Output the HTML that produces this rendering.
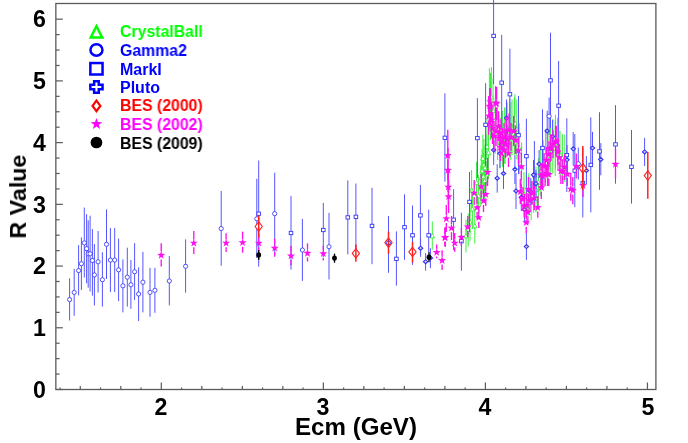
<!DOCTYPE html><html><head><meta charset="utf-8"><title>R Value</title><style>
html,body{margin:0;padding:0;background:#fff;}
body{width:688px;height:443px;position:relative;overflow:hidden;font-family:"Liberation Sans",sans-serif;font-weight:bold;color:#000;}
.t{position:absolute;white-space:nowrap;line-height:1;will-change:transform;}
.yl{font-size:23.2px;width:40px;text-align:right;left:6.4px;}
.xl{font-size:23.2px;width:40px;text-align:center;}
.lg{font-size:16px;left:120.2px;transform:scaleX(0.99);transform-origin:left top;}
</style></head><body>
<svg width="688" height="443" viewBox="0 0 688 443" style="position:absolute;left:0;top:0">
<rect x="0" y="0" width="688" height="443" fill="#fff"/>
<line x1="432.30" y1="221.40" x2="432.30" y2="249.60" stroke="#33f033" stroke-width="0.95"/>
<line x1="466.00" y1="219.59" x2="466.00" y2="252.41" stroke="#33f033" stroke-width="0.95"/>
<line x1="468.20" y1="213.44" x2="468.20" y2="246.56" stroke="#33f033" stroke-width="0.95"/>
<line x1="470.00" y1="203.13" x2="470.00" y2="240.87" stroke="#33f033" stroke-width="0.95"/>
<line x1="471.60" y1="169.89" x2="471.60" y2="210.71" stroke="#33f033" stroke-width="0.95"/>
<line x1="472.40" y1="189.25" x2="472.40" y2="229.15" stroke="#33f033" stroke-width="0.95"/>
<line x1="474.80" y1="208.40" x2="474.80" y2="243.60" stroke="#33f033" stroke-width="0.95"/>
<line x1="476.50" y1="161.67" x2="476.50" y2="203.93" stroke="#33f033" stroke-width="0.95"/>
<line x1="478.60" y1="174.69" x2="478.60" y2="217.31" stroke="#33f033" stroke-width="0.95"/>
<line x1="480.80" y1="165.27" x2="480.80" y2="206.73" stroke="#33f033" stroke-width="0.95"/>
<line x1="481.30" y1="154.98" x2="481.30" y2="201.02" stroke="#33f033" stroke-width="0.95"/>
<line x1="482.10" y1="148.62" x2="482.10" y2="193.38" stroke="#33f033" stroke-width="0.95"/>
<line x1="482.90" y1="134.64" x2="482.90" y2="182.16" stroke="#33f033" stroke-width="0.95"/>
<line x1="483.40" y1="153.24" x2="483.40" y2="199.56" stroke="#33f033" stroke-width="0.95"/>
<line x1="483.90" y1="139.01" x2="483.90" y2="190.99" stroke="#33f033" stroke-width="0.95"/>
<line x1="484.50" y1="159.45" x2="484.50" y2="202.55" stroke="#33f033" stroke-width="0.95"/>
<line x1="485.00" y1="144.71" x2="485.00" y2="191.29" stroke="#33f033" stroke-width="0.95"/>
<line x1="486.00" y1="134.24" x2="486.00" y2="185.76" stroke="#33f033" stroke-width="0.95"/>
<line x1="487.00" y1="118.08" x2="487.00" y2="175.32" stroke="#33f033" stroke-width="0.95"/>
<line x1="488.50" y1="126.55" x2="488.50" y2="179.25" stroke="#33f033" stroke-width="0.95"/>
<line x1="489.40" y1="68.13" x2="489.40" y2="130.87" stroke="#33f033" stroke-width="0.95"/>
<line x1="490.50" y1="73.00" x2="490.50" y2="140.00" stroke="#33f033" stroke-width="0.95"/>
<line x1="491.40" y1="67.05" x2="491.40" y2="126.75" stroke="#33f033" stroke-width="0.95"/>
<line x1="493.10" y1="78.05" x2="493.10" y2="142.95" stroke="#33f033" stroke-width="0.95"/>
<line x1="495.20" y1="99.08" x2="495.20" y2="153.67" stroke="#33f033" stroke-width="0.95"/>
<line x1="497.60" y1="105.44" x2="497.60" y2="160.18" stroke="#33f033" stroke-width="0.95"/>
<line x1="500.00" y1="117.04" x2="500.00" y2="168.54" stroke="#33f033" stroke-width="0.95"/>
<line x1="502.40" y1="110.85" x2="502.40" y2="167.18" stroke="#33f033" stroke-width="0.95"/>
<line x1="504.80" y1="107.40" x2="504.80" y2="163.70" stroke="#33f033" stroke-width="0.95"/>
<line x1="507.20" y1="102.49" x2="507.20" y2="155.74" stroke="#33f033" stroke-width="0.95"/>
<line x1="509.60" y1="98.35" x2="509.60" y2="157.55" stroke="#33f033" stroke-width="0.95"/>
<line x1="512.00" y1="99.35" x2="512.00" y2="155.31" stroke="#33f033" stroke-width="0.95"/>
<line x1="514.40" y1="97.08" x2="514.40" y2="154.65" stroke="#33f033" stroke-width="0.95"/>
<line x1="516.80" y1="99.44" x2="516.80" y2="159.36" stroke="#33f033" stroke-width="0.95"/>
<line x1="519.20" y1="123.17" x2="519.20" y2="174.00" stroke="#33f033" stroke-width="0.95"/>
<line x1="521.60" y1="142.31" x2="521.60" y2="191.48" stroke="#33f033" stroke-width="0.95"/>
<line x1="524.00" y1="172.26" x2="524.00" y2="216.74" stroke="#33f033" stroke-width="0.95"/>
<line x1="526.40" y1="172.47" x2="526.40" y2="218.44" stroke="#33f033" stroke-width="0.95"/>
<line x1="528.80" y1="173.35" x2="528.80" y2="215.68" stroke="#33f033" stroke-width="0.95"/>
<line x1="531.20" y1="181.07" x2="531.20" y2="220.30" stroke="#33f033" stroke-width="0.95"/>
<line x1="533.60" y1="172.61" x2="533.60" y2="212.72" stroke="#33f033" stroke-width="0.95"/>
<line x1="536.00" y1="166.59" x2="536.00" y2="212.45" stroke="#33f033" stroke-width="0.95"/>
<line x1="538.40" y1="158.22" x2="538.40" y2="206.53" stroke="#33f033" stroke-width="0.95"/>
<line x1="540.80" y1="146.23" x2="540.80" y2="195.80" stroke="#33f033" stroke-width="0.95"/>
<line x1="543.20" y1="140.53" x2="543.20" y2="190.44" stroke="#33f033" stroke-width="0.95"/>
<line x1="545.60" y1="128.95" x2="545.60" y2="183.10" stroke="#33f033" stroke-width="0.95"/>
<line x1="548.00" y1="129.96" x2="548.00" y2="181.21" stroke="#33f033" stroke-width="0.95"/>
<line x1="550.40" y1="123.32" x2="550.40" y2="172.72" stroke="#33f033" stroke-width="0.95"/>
<line x1="552.80" y1="118.83" x2="552.80" y2="173.61" stroke="#33f033" stroke-width="0.95"/>
<line x1="555.20" y1="120.20" x2="555.20" y2="176.04" stroke="#33f033" stroke-width="0.95"/>
<line x1="557.60" y1="117.73" x2="557.60" y2="170.70" stroke="#33f033" stroke-width="0.95"/>
<line x1="560.00" y1="130.83" x2="560.00" y2="178.55" stroke="#33f033" stroke-width="0.95"/>
<line x1="562.40" y1="134.15" x2="562.40" y2="182.33" stroke="#33f033" stroke-width="0.95"/>
<line x1="564.80" y1="134.67" x2="564.80" y2="181.94" stroke="#33f033" stroke-width="0.95"/>
<line x1="505.00" y1="107.70" x2="505.00" y2="163.80" stroke="#33f033" stroke-width="0.95"/>
<line x1="510.80" y1="102.40" x2="510.80" y2="160.00" stroke="#33f033" stroke-width="0.95"/>
<line x1="514.90" y1="94.30" x2="514.90" y2="152.80" stroke="#33f033" stroke-width="0.95"/>
<line x1="555.50" y1="114.80" x2="555.50" y2="169.00" stroke="#33f033" stroke-width="0.95"/>
<path d="M430.00 237.84 L434.60 237.84 L432.30 233.47 Z" fill="#fff" stroke="#33f033" stroke-width="0.9"/>
<path d="M463.70 237.84 L468.30 237.84 L466.00 233.47 Z" fill="#fff" stroke="#33f033" stroke-width="0.9"/>
<path d="M465.90 231.84 L470.50 231.84 L468.20 227.47 Z" fill="#fff" stroke="#33f033" stroke-width="0.9"/>
<path d="M467.70 223.84 L472.30 223.84 L470.00 219.47 Z" fill="#fff" stroke="#33f033" stroke-width="0.9"/>
<path d="M469.30 192.14 L473.90 192.14 L471.60 187.77 Z" fill="#fff" stroke="#33f033" stroke-width="0.9"/>
<path d="M470.10 211.04 L474.70 211.04 L472.40 206.67 Z" fill="#fff" stroke="#33f033" stroke-width="0.9"/>
<path d="M472.50 227.84 L477.10 227.84 L474.80 223.47 Z" fill="#fff" stroke="#33f033" stroke-width="0.9"/>
<path d="M474.20 184.64 L478.80 184.64 L476.50 180.27 Z" fill="#fff" stroke="#33f033" stroke-width="0.9"/>
<path d="M476.30 197.84 L480.90 197.84 L478.60 193.47 Z" fill="#fff" stroke="#33f033" stroke-width="0.9"/>
<path d="M478.50 187.84 L483.10 187.84 L480.80 183.47 Z" fill="#fff" stroke="#33f033" stroke-width="0.9"/>
<path d="M479.00 179.84 L483.60 179.84 L481.30 175.47 Z" fill="#fff" stroke="#33f033" stroke-width="0.9"/>
<path d="M479.80 172.84 L484.40 172.84 L482.10 168.47 Z" fill="#fff" stroke="#33f033" stroke-width="0.9"/>
<path d="M480.60 160.24 L485.20 160.24 L482.90 155.87 Z" fill="#fff" stroke="#33f033" stroke-width="0.9"/>
<path d="M481.10 178.24 L485.70 178.24 L483.40 173.87 Z" fill="#fff" stroke="#33f033" stroke-width="0.9"/>
<path d="M481.60 166.84 L486.20 166.84 L483.90 162.47 Z" fill="#fff" stroke="#33f033" stroke-width="0.9"/>
<path d="M482.20 182.84 L486.80 182.84 L484.50 178.47 Z" fill="#fff" stroke="#33f033" stroke-width="0.9"/>
<path d="M482.70 169.84 L487.30 169.84 L485.00 165.47 Z" fill="#fff" stroke="#33f033" stroke-width="0.9"/>
<path d="M483.70 161.84 L488.30 161.84 L486.00 157.47 Z" fill="#fff" stroke="#33f033" stroke-width="0.9"/>
<path d="M484.70 148.54 L489.30 148.54 L487.00 144.17 Z" fill="#fff" stroke="#33f033" stroke-width="0.9"/>
<path d="M486.20 154.74 L490.80 154.74 L488.50 150.37 Z" fill="#fff" stroke="#33f033" stroke-width="0.9"/>
<path d="M487.10 101.34 L491.70 101.34 L489.40 96.97 Z" fill="#fff" stroke="#33f033" stroke-width="0.9"/>
<path d="M488.20 108.34 L492.80 108.34 L490.50 103.97 Z" fill="#fff" stroke="#33f033" stroke-width="0.9"/>
<path d="M489.10 98.74 L493.70 98.74 L491.40 94.37 Z" fill="#fff" stroke="#33f033" stroke-width="0.9"/>
<path d="M490.80 112.34 L495.40 112.34 L493.10 107.97 Z" fill="#fff" stroke="#33f033" stroke-width="0.9"/>
<path d="M492.90 128.22 L497.50 128.22 L495.20 123.85 Z" fill="#fff" stroke="#33f033" stroke-width="0.9"/>
<path d="M495.30 134.65 L499.90 134.65 L497.60 130.28 Z" fill="#fff" stroke="#33f033" stroke-width="0.9"/>
<path d="M497.70 144.63 L502.30 144.63 L500.00 140.26 Z" fill="#fff" stroke="#33f033" stroke-width="0.9"/>
<path d="M500.10 140.86 L504.70 140.86 L502.40 136.49 Z" fill="#fff" stroke="#33f033" stroke-width="0.9"/>
<path d="M502.50 137.39 L507.10 137.39 L504.80 133.02 Z" fill="#fff" stroke="#33f033" stroke-width="0.9"/>
<path d="M504.90 130.95 L509.50 130.95 L507.20 126.58 Z" fill="#fff" stroke="#33f033" stroke-width="0.9"/>
<path d="M507.30 129.79 L511.90 129.79 L509.60 125.42 Z" fill="#fff" stroke="#33f033" stroke-width="0.9"/>
<path d="M509.70 129.17 L514.30 129.17 L512.00 124.80 Z" fill="#fff" stroke="#33f033" stroke-width="0.9"/>
<path d="M512.10 127.71 L516.70 127.71 L514.40 123.34 Z" fill="#fff" stroke="#33f033" stroke-width="0.9"/>
<path d="M514.50 131.24 L519.10 131.24 L516.80 126.87 Z" fill="#fff" stroke="#33f033" stroke-width="0.9"/>
<path d="M516.90 150.43 L521.50 150.43 L519.20 146.06 Z" fill="#fff" stroke="#33f033" stroke-width="0.9"/>
<path d="M519.30 168.73 L523.90 168.73 L521.60 164.36 Z" fill="#fff" stroke="#33f033" stroke-width="0.9"/>
<path d="M521.70 196.34 L526.30 196.34 L524.00 191.97 Z" fill="#fff" stroke="#33f033" stroke-width="0.9"/>
<path d="M524.10 197.30 L528.70 197.30 L526.40 192.93 Z" fill="#fff" stroke="#33f033" stroke-width="0.9"/>
<path d="M526.50 196.36 L531.10 196.36 L528.80 191.99 Z" fill="#fff" stroke="#33f033" stroke-width="0.9"/>
<path d="M528.90 202.53 L533.50 202.53 L531.20 198.16 Z" fill="#fff" stroke="#33f033" stroke-width="0.9"/>
<path d="M531.30 194.51 L535.90 194.51 L533.60 190.14 Z" fill="#fff" stroke="#33f033" stroke-width="0.9"/>
<path d="M533.70 191.36 L538.30 191.36 L536.00 186.99 Z" fill="#fff" stroke="#33f033" stroke-width="0.9"/>
<path d="M536.10 184.22 L540.70 184.22 L538.40 179.85 Z" fill="#fff" stroke="#33f033" stroke-width="0.9"/>
<path d="M538.50 172.85 L543.10 172.85 L540.80 168.48 Z" fill="#fff" stroke="#33f033" stroke-width="0.9"/>
<path d="M540.90 167.32 L545.50 167.32 L543.20 162.95 Z" fill="#fff" stroke="#33f033" stroke-width="0.9"/>
<path d="M543.30 157.86 L547.90 157.86 L545.60 153.49 Z" fill="#fff" stroke="#33f033" stroke-width="0.9"/>
<path d="M545.70 157.43 L550.30 157.43 L548.00 153.06 Z" fill="#fff" stroke="#33f033" stroke-width="0.9"/>
<path d="M548.10 149.86 L552.70 149.86 L550.40 145.49 Z" fill="#fff" stroke="#33f033" stroke-width="0.9"/>
<path d="M550.50 148.06 L555.10 148.06 L552.80 143.69 Z" fill="#fff" stroke="#33f033" stroke-width="0.9"/>
<path d="M552.90 149.96 L557.50 149.96 L555.20 145.59 Z" fill="#fff" stroke="#33f033" stroke-width="0.9"/>
<path d="M555.30 146.06 L559.90 146.06 L557.60 141.69 Z" fill="#fff" stroke="#33f033" stroke-width="0.9"/>
<path d="M557.70 156.53 L562.30 156.53 L560.00 152.16 Z" fill="#fff" stroke="#33f033" stroke-width="0.9"/>
<path d="M560.10 160.08 L564.70 160.08 L562.40 155.71 Z" fill="#fff" stroke="#33f033" stroke-width="0.9"/>
<path d="M562.50 160.15 L567.10 160.15 L564.80 155.78 Z" fill="#fff" stroke="#33f033" stroke-width="0.9"/>
<path d="M502.70 137.74 L507.30 137.74 L505.00 133.37 Z" fill="#fff" stroke="#33f033" stroke-width="0.9"/>
<path d="M508.50 132.84 L513.10 132.84 L510.80 128.47 Z" fill="#fff" stroke="#33f033" stroke-width="0.9"/>
<path d="M512.60 125.34 L517.20 125.34 L514.90 120.97 Z" fill="#fff" stroke="#33f033" stroke-width="0.9"/>
<path d="M553.20 143.84 L557.80 143.84 L555.50 139.47 Z" fill="#fff" stroke="#33f033" stroke-width="0.9"/>
<line x1="69.60" y1="278.30" x2="69.60" y2="320.50" stroke="#5555ff" stroke-width="1.0"/>
<line x1="74.20" y1="268.80" x2="74.20" y2="315.80" stroke="#5555ff" stroke-width="1.0"/>
<line x1="78.60" y1="245.10" x2="78.60" y2="295.40" stroke="#5555ff" stroke-width="1.0"/>
<line x1="81.40" y1="237.40" x2="81.40" y2="289.90" stroke="#5555ff" stroke-width="1.0"/>
<line x1="84.30" y1="207.60" x2="84.30" y2="277.50" stroke="#5555ff" stroke-width="1.0"/>
<line x1="86.60" y1="214.20" x2="86.60" y2="283.30" stroke="#5555ff" stroke-width="1.0"/>
<line x1="88.20" y1="220.30" x2="88.20" y2="287.70" stroke="#5555ff" stroke-width="1.0"/>
<line x1="90.10" y1="215.70" x2="90.10" y2="291.60" stroke="#5555ff" stroke-width="1.0"/>
<line x1="92.40" y1="229.10" x2="92.40" y2="295.70" stroke="#5555ff" stroke-width="1.0"/>
<line x1="94.40" y1="244.00" x2="94.40" y2="305.40" stroke="#5555ff" stroke-width="1.0"/>
<line x1="98.10" y1="231.00" x2="98.10" y2="292.50" stroke="#5555ff" stroke-width="1.0"/>
<line x1="102.40" y1="252.30" x2="102.40" y2="306.60" stroke="#5555ff" stroke-width="1.0"/>
<line x1="106.50" y1="209.40" x2="106.50" y2="279.00" stroke="#5555ff" stroke-width="1.0"/>
<line x1="110.40" y1="228.00" x2="110.40" y2="292.10" stroke="#5555ff" stroke-width="1.0"/>
<line x1="114.70" y1="228.00" x2="114.70" y2="292.10" stroke="#5555ff" stroke-width="1.0"/>
<line x1="118.60" y1="238.50" x2="118.60" y2="301.10" stroke="#5555ff" stroke-width="1.0"/>
<line x1="122.90" y1="259.40" x2="122.90" y2="312.40" stroke="#5555ff" stroke-width="1.0"/>
<line x1="127.30" y1="247.70" x2="127.30" y2="306.60" stroke="#5555ff" stroke-width="1.0"/>
<line x1="130.90" y1="260.00" x2="130.90" y2="308.80" stroke="#5555ff" stroke-width="1.0"/>
<line x1="134.60" y1="243.20" x2="134.60" y2="300.10" stroke="#5555ff" stroke-width="1.0"/>
<line x1="138.60" y1="267.40" x2="138.60" y2="321.00" stroke="#5555ff" stroke-width="1.0"/>
<line x1="142.90" y1="251.90" x2="142.90" y2="312.40" stroke="#5555ff" stroke-width="1.0"/>
<line x1="150.00" y1="267.80" x2="150.00" y2="316.80" stroke="#5555ff" stroke-width="1.0"/>
<line x1="154.90" y1="267.80" x2="154.90" y2="312.80" stroke="#5555ff" stroke-width="1.0"/>
<line x1="169.30" y1="256.10" x2="169.30" y2="305.40" stroke="#5555ff" stroke-width="1.0"/>
<line x1="185.60" y1="239.40" x2="185.60" y2="292.70" stroke="#5555ff" stroke-width="1.0"/>
<line x1="221.20" y1="191.00" x2="221.20" y2="265.70" stroke="#5555ff" stroke-width="1.0"/>
<line x1="256.80" y1="178.80" x2="256.80" y2="258.00" stroke="#5555ff" stroke-width="1.0"/>
<line x1="274.70" y1="172.70" x2="274.70" y2="254.00" stroke="#5555ff" stroke-width="1.0"/>
<line x1="302.40" y1="219.00" x2="302.40" y2="280.90" stroke="#5555ff" stroke-width="1.0"/>
<line x1="329.00" y1="212.90" x2="329.00" y2="279.50" stroke="#5555ff" stroke-width="1.0"/>
<line x1="388.50" y1="216.00" x2="388.50" y2="272.80" stroke="#5555ff" stroke-width="1.0"/>
<line x1="549.10" y1="97.50" x2="549.10" y2="135.00" stroke="#5555ff" stroke-width="1.0"/>
<line x1="578.30" y1="147.50" x2="578.30" y2="179.60" stroke="#5555ff" stroke-width="1.0"/>
<line x1="258.70" y1="160.50" x2="258.70" y2="266.70" stroke="#5555ff" stroke-width="1.0"/>
<line x1="291.00" y1="195.90" x2="291.00" y2="269.70" stroke="#5555ff" stroke-width="1.0"/>
<line x1="323.30" y1="203.00" x2="323.30" y2="257.00" stroke="#5555ff" stroke-width="1.0"/>
<line x1="347.80" y1="180.40" x2="347.80" y2="254.40" stroke="#5555ff" stroke-width="1.0"/>
<line x1="355.90" y1="183.50" x2="355.90" y2="250.00" stroke="#5555ff" stroke-width="1.0"/>
<line x1="372.00" y1="187.80" x2="372.00" y2="264.20" stroke="#5555ff" stroke-width="1.0"/>
<line x1="396.40" y1="231.40" x2="396.40" y2="285.70" stroke="#5555ff" stroke-width="1.0"/>
<line x1="404.50" y1="194.30" x2="404.50" y2="259.80" stroke="#5555ff" stroke-width="1.0"/>
<line x1="412.50" y1="205.50" x2="412.50" y2="264.90" stroke="#5555ff" stroke-width="1.0"/>
<line x1="420.40" y1="184.90" x2="420.40" y2="254.00" stroke="#5555ff" stroke-width="1.0"/>
<line x1="428.70" y1="209.70" x2="428.70" y2="252.00" stroke="#5555ff" stroke-width="1.0"/>
<line x1="444.90" y1="93.30" x2="444.90" y2="181.60" stroke="#5555ff" stroke-width="1.0"/>
<line x1="453.60" y1="189.20" x2="453.60" y2="250.00" stroke="#5555ff" stroke-width="1.0"/>
<line x1="461.40" y1="212.70" x2="461.40" y2="270.70" stroke="#5555ff" stroke-width="1.0"/>
<line x1="469.50" y1="172.00" x2="469.50" y2="232.00" stroke="#5555ff" stroke-width="1.0"/>
<line x1="477.40" y1="98.10" x2="477.40" y2="178.00" stroke="#5555ff" stroke-width="1.0"/>
<line x1="485.60" y1="83.20" x2="485.60" y2="166.00" stroke="#5555ff" stroke-width="1.0"/>
<line x1="493.60" y1="-12.00" x2="493.60" y2="84.00" stroke="#5555ff" stroke-width="1.0"/>
<line x1="501.70" y1="34.80" x2="501.70" y2="130.00" stroke="#5555ff" stroke-width="1.0"/>
<line x1="509.90" y1="48.70" x2="509.90" y2="140.00" stroke="#5555ff" stroke-width="1.0"/>
<line x1="518.50" y1="96.00" x2="518.50" y2="174.00" stroke="#5555ff" stroke-width="1.0"/>
<line x1="526.40" y1="118.70" x2="526.40" y2="194.00" stroke="#5555ff" stroke-width="1.0"/>
<line x1="534.40" y1="141.00" x2="534.40" y2="209.00" stroke="#5555ff" stroke-width="1.0"/>
<line x1="542.50" y1="109.30" x2="542.50" y2="187.00" stroke="#5555ff" stroke-width="1.0"/>
<line x1="550.50" y1="32.70" x2="550.50" y2="128.00" stroke="#5555ff" stroke-width="1.0"/>
<line x1="558.60" y1="61.00" x2="558.60" y2="150.00" stroke="#5555ff" stroke-width="1.0"/>
<line x1="566.80" y1="118.30" x2="566.80" y2="192.00" stroke="#5555ff" stroke-width="1.0"/>
<line x1="574.80" y1="134.00" x2="574.80" y2="207.20" stroke="#5555ff" stroke-width="1.0"/>
<line x1="582.80" y1="148.00" x2="582.80" y2="217.40" stroke="#5555ff" stroke-width="1.0"/>
<line x1="590.80" y1="117.30" x2="590.80" y2="212.30" stroke="#5555ff" stroke-width="1.0"/>
<line x1="599.50" y1="112.20" x2="599.50" y2="189.80" stroke="#5555ff" stroke-width="1.0"/>
<line x1="615.50" y1="105.20" x2="615.50" y2="183.70" stroke="#5555ff" stroke-width="1.0"/>
<line x1="631.50" y1="130.00" x2="631.50" y2="203.60" stroke="#5555ff" stroke-width="1.0"/>
<line x1="420.60" y1="239.00" x2="420.60" y2="256.90" stroke="#5555ff" stroke-width="1.0"/>
<line x1="425.60" y1="253.00" x2="425.60" y2="270.70" stroke="#5555ff" stroke-width="1.0"/>
<line x1="430.40" y1="248.20" x2="430.40" y2="268.10" stroke="#5555ff" stroke-width="1.0"/>
<line x1="493.70" y1="135.00" x2="493.70" y2="165.00" stroke="#5555ff" stroke-width="1.0"/>
<line x1="497.20" y1="164.20" x2="497.20" y2="192.70" stroke="#5555ff" stroke-width="1.0"/>
<line x1="500.00" y1="139.00" x2="500.00" y2="168.00" stroke="#5555ff" stroke-width="1.0"/>
<line x1="503.50" y1="158.00" x2="503.50" y2="189.00" stroke="#5555ff" stroke-width="1.0"/>
<line x1="506.50" y1="99.50" x2="506.50" y2="137.00" stroke="#5555ff" stroke-width="1.0"/>
<line x1="514.90" y1="155.00" x2="514.90" y2="184.00" stroke="#5555ff" stroke-width="1.0"/>
<line x1="516.00" y1="173.00" x2="516.00" y2="209.00" stroke="#5555ff" stroke-width="1.0"/>
<line x1="521.30" y1="184.00" x2="521.30" y2="211.00" stroke="#5555ff" stroke-width="1.0"/>
<line x1="524.40" y1="196.00" x2="524.40" y2="223.00" stroke="#5555ff" stroke-width="1.0"/>
<line x1="526.40" y1="233.00" x2="526.40" y2="260.00" stroke="#5555ff" stroke-width="1.0"/>
<line x1="530.80" y1="178.00" x2="530.80" y2="205.00" stroke="#5555ff" stroke-width="1.0"/>
<line x1="533.50" y1="160.00" x2="533.50" y2="190.00" stroke="#5555ff" stroke-width="1.0"/>
<line x1="536.00" y1="170.00" x2="536.00" y2="197.00" stroke="#5555ff" stroke-width="1.0"/>
<line x1="539.10" y1="150.00" x2="539.10" y2="178.00" stroke="#5555ff" stroke-width="1.0"/>
<line x1="547.20" y1="110.70" x2="547.20" y2="151.00" stroke="#5555ff" stroke-width="1.0"/>
<line x1="552.60" y1="120.00" x2="552.60" y2="153.00" stroke="#5555ff" stroke-width="1.0"/>
<line x1="567.00" y1="145.00" x2="567.00" y2="175.00" stroke="#5555ff" stroke-width="1.0"/>
<line x1="573.20" y1="132.10" x2="573.20" y2="165.00" stroke="#5555ff" stroke-width="1.0"/>
<line x1="586.40" y1="156.00" x2="586.40" y2="184.10" stroke="#5555ff" stroke-width="1.0"/>
<line x1="592.50" y1="131.80" x2="592.50" y2="164.00" stroke="#5555ff" stroke-width="1.0"/>
<line x1="600.80" y1="143.10" x2="600.80" y2="175.30" stroke="#5555ff" stroke-width="1.0"/>
<line x1="644.60" y1="137.90" x2="644.60" y2="166.00" stroke="#5555ff" stroke-width="1.0"/>
<circle cx="69.60" cy="299.60" r="2.1" fill="#fff" stroke="#3535f8" stroke-width="0.85"/>
<circle cx="74.20" cy="292.40" r="2.1" fill="#fff" stroke="#3535f8" stroke-width="0.85"/>
<circle cx="78.60" cy="270.60" r="2.1" fill="#fff" stroke="#3535f8" stroke-width="0.85"/>
<circle cx="81.40" cy="263.70" r="2.1" fill="#fff" stroke="#3535f8" stroke-width="0.85"/>
<circle cx="84.30" cy="242.90" r="2.1" fill="#fff" stroke="#3535f8" stroke-width="0.85"/>
<circle cx="86.60" cy="248.70" r="2.1" fill="#fff" stroke="#3535f8" stroke-width="0.85"/>
<circle cx="88.20" cy="253.80" r="2.1" fill="#fff" stroke="#3535f8" stroke-width="0.85"/>
<circle cx="90.10" cy="253.80" r="2.1" fill="#fff" stroke="#3535f8" stroke-width="0.85"/>
<circle cx="92.40" cy="260.50" r="2.1" fill="#fff" stroke="#3535f8" stroke-width="0.85"/>
<circle cx="94.40" cy="274.90" r="2.1" fill="#fff" stroke="#3535f8" stroke-width="0.85"/>
<circle cx="98.10" cy="261.80" r="2.1" fill="#fff" stroke="#3535f8" stroke-width="0.85"/>
<circle cx="102.40" cy="279.70" r="2.1" fill="#fff" stroke="#3535f8" stroke-width="0.85"/>
<circle cx="106.50" cy="244.30" r="2.1" fill="#fff" stroke="#3535f8" stroke-width="0.85"/>
<circle cx="110.40" cy="260.10" r="2.1" fill="#fff" stroke="#3535f8" stroke-width="0.85"/>
<circle cx="114.70" cy="260.10" r="2.1" fill="#fff" stroke="#3535f8" stroke-width="0.85"/>
<circle cx="118.60" cy="269.80" r="2.1" fill="#fff" stroke="#3535f8" stroke-width="0.85"/>
<circle cx="122.90" cy="285.80" r="2.1" fill="#fff" stroke="#3535f8" stroke-width="0.85"/>
<circle cx="127.30" cy="277.20" r="2.1" fill="#fff" stroke="#3535f8" stroke-width="0.85"/>
<circle cx="130.90" cy="284.80" r="2.1" fill="#fff" stroke="#3535f8" stroke-width="0.85"/>
<circle cx="134.60" cy="271.70" r="2.1" fill="#fff" stroke="#3535f8" stroke-width="0.85"/>
<circle cx="138.60" cy="294.00" r="2.1" fill="#fff" stroke="#3535f8" stroke-width="0.85"/>
<circle cx="142.90" cy="282.20" r="2.1" fill="#fff" stroke="#3535f8" stroke-width="0.85"/>
<circle cx="150.00" cy="292.40" r="2.1" fill="#fff" stroke="#3535f8" stroke-width="0.85"/>
<circle cx="154.90" cy="290.30" r="2.1" fill="#fff" stroke="#3535f8" stroke-width="0.85"/>
<circle cx="169.30" cy="281.00" r="2.1" fill="#fff" stroke="#3535f8" stroke-width="0.85"/>
<circle cx="185.60" cy="266.30" r="2.1" fill="#fff" stroke="#3535f8" stroke-width="0.85"/>
<circle cx="221.20" cy="228.60" r="2.1" fill="#fff" stroke="#3535f8" stroke-width="0.85"/>
<circle cx="256.80" cy="218.80" r="2.1" fill="#fff" stroke="#3535f8" stroke-width="0.85"/>
<circle cx="274.70" cy="213.70" r="2.1" fill="#fff" stroke="#3535f8" stroke-width="0.85"/>
<circle cx="302.40" cy="250.00" r="2.1" fill="#fff" stroke="#3535f8" stroke-width="0.85"/>
<circle cx="329.00" cy="246.70" r="2.1" fill="#fff" stroke="#3535f8" stroke-width="0.85"/>
<circle cx="388.50" cy="242.80" r="2.1" fill="#fff" stroke="#3535f8" stroke-width="0.85"/>
<circle cx="549.10" cy="116.20" r="2.1" fill="#fff" stroke="#3535f8" stroke-width="0.85"/>
<circle cx="578.30" cy="163.80" r="2.1" fill="#fff" stroke="#3535f8" stroke-width="0.85"/>
<rect x="256.90" y="212.05" width="3.6" height="3.3" fill="#fff" stroke="#3535f8" stroke-width="0.9"/>
<rect x="289.20" y="231.35" width="3.6" height="3.3" fill="#fff" stroke="#3535f8" stroke-width="0.9"/>
<rect x="321.50" y="228.35" width="3.6" height="3.3" fill="#fff" stroke="#3535f8" stroke-width="0.9"/>
<rect x="346.00" y="215.75" width="3.6" height="3.3" fill="#fff" stroke="#3535f8" stroke-width="0.9"/>
<rect x="354.10" y="215.15" width="3.6" height="3.3" fill="#fff" stroke="#3535f8" stroke-width="0.9"/>
<rect x="370.20" y="224.25" width="3.6" height="3.3" fill="#fff" stroke="#3535f8" stroke-width="0.9"/>
<rect x="394.60" y="257.15" width="3.6" height="3.3" fill="#fff" stroke="#3535f8" stroke-width="0.9"/>
<rect x="402.70" y="225.55" width="3.6" height="3.3" fill="#fff" stroke="#3535f8" stroke-width="0.9"/>
<rect x="410.70" y="233.65" width="3.6" height="3.3" fill="#fff" stroke="#3535f8" stroke-width="0.9"/>
<rect x="418.60" y="213.75" width="3.6" height="3.3" fill="#fff" stroke="#3535f8" stroke-width="0.9"/>
<rect x="426.90" y="233.65" width="3.6" height="3.3" fill="#fff" stroke="#3535f8" stroke-width="0.9"/>
<rect x="443.10" y="136.15" width="3.6" height="3.3" fill="#fff" stroke="#3535f8" stroke-width="0.9"/>
<rect x="451.80" y="218.05" width="3.6" height="3.3" fill="#fff" stroke="#3535f8" stroke-width="0.9"/>
<rect x="459.60" y="239.55" width="3.6" height="3.3" fill="#fff" stroke="#3535f8" stroke-width="0.9"/>
<rect x="467.70" y="200.25" width="3.6" height="3.3" fill="#fff" stroke="#3535f8" stroke-width="0.9"/>
<rect x="475.60" y="136.45" width="3.6" height="3.3" fill="#fff" stroke="#3535f8" stroke-width="0.9"/>
<rect x="483.80" y="123.15" width="3.6" height="3.3" fill="#fff" stroke="#3535f8" stroke-width="0.9"/>
<rect x="491.80" y="34.25" width="3.6" height="3.3" fill="#fff" stroke="#3535f8" stroke-width="0.9"/>
<rect x="499.90" y="81.05" width="3.6" height="3.3" fill="#fff" stroke="#3535f8" stroke-width="0.9"/>
<rect x="508.10" y="92.65" width="3.6" height="3.3" fill="#fff" stroke="#3535f8" stroke-width="0.9"/>
<rect x="516.70" y="133.55" width="3.6" height="3.3" fill="#fff" stroke="#3535f8" stroke-width="0.9"/>
<rect x="524.60" y="154.55" width="3.6" height="3.3" fill="#fff" stroke="#3535f8" stroke-width="0.9"/>
<rect x="532.60" y="173.55" width="3.6" height="3.3" fill="#fff" stroke="#3535f8" stroke-width="0.9"/>
<rect x="540.70" y="146.35" width="3.6" height="3.3" fill="#fff" stroke="#3535f8" stroke-width="0.9"/>
<rect x="548.70" y="78.75" width="3.6" height="3.3" fill="#fff" stroke="#3535f8" stroke-width="0.9"/>
<rect x="556.80" y="104.05" width="3.6" height="3.3" fill="#fff" stroke="#3535f8" stroke-width="0.9"/>
<rect x="565.00" y="153.45" width="3.6" height="3.3" fill="#fff" stroke="#3535f8" stroke-width="0.9"/>
<rect x="573.00" y="168.95" width="3.6" height="3.3" fill="#fff" stroke="#3535f8" stroke-width="0.9"/>
<rect x="581.00" y="181.35" width="3.6" height="3.3" fill="#fff" stroke="#3535f8" stroke-width="0.9"/>
<rect x="589.00" y="163.25" width="3.6" height="3.3" fill="#fff" stroke="#3535f8" stroke-width="0.9"/>
<rect x="597.70" y="149.75" width="3.6" height="3.3" fill="#fff" stroke="#3535f8" stroke-width="0.9"/>
<rect x="613.70" y="142.75" width="3.6" height="3.3" fill="#fff" stroke="#3535f8" stroke-width="0.9"/>
<rect x="629.70" y="165.15" width="3.6" height="3.3" fill="#fff" stroke="#3535f8" stroke-width="0.9"/>
<path d="M418.40 248.20 L420.60 246.20 L422.80 248.20 L420.60 250.20 Z" fill="#ccd" stroke="#3535f8" stroke-width="1.1"/>
<path d="M423.40 261.70 L425.60 259.70 L427.80 261.70 L425.60 263.70 Z" fill="#ccd" stroke="#3535f8" stroke-width="1.1"/>
<path d="M428.20 257.90 L430.40 255.90 L432.60 257.90 L430.40 259.90 Z" fill="#ccd" stroke="#3535f8" stroke-width="1.1"/>
<path d="M491.50 150.00 L493.70 148.00 L495.90 150.00 L493.70 152.00 Z" fill="#ccd" stroke="#3535f8" stroke-width="1.1"/>
<path d="M495.00 178.20 L497.20 176.20 L499.40 178.20 L497.20 180.20 Z" fill="#ccd" stroke="#3535f8" stroke-width="1.1"/>
<path d="M497.80 153.30 L500.00 151.30 L502.20 153.30 L500.00 155.30 Z" fill="#ccd" stroke="#3535f8" stroke-width="1.1"/>
<path d="M501.30 173.50 L503.50 171.50 L505.70 173.50 L503.50 175.50 Z" fill="#ccd" stroke="#3535f8" stroke-width="1.1"/>
<path d="M504.30 118.10 L506.50 116.10 L508.70 118.10 L506.50 120.10 Z" fill="#ccd" stroke="#3535f8" stroke-width="1.1"/>
<path d="M512.70 169.30 L514.90 167.30 L517.10 169.30 L514.90 171.30 Z" fill="#ccd" stroke="#3535f8" stroke-width="1.1"/>
<path d="M513.80 190.90 L516.00 188.90 L518.20 190.90 L516.00 192.90 Z" fill="#ccd" stroke="#3535f8" stroke-width="1.1"/>
<path d="M519.10 197.30 L521.30 195.30 L523.50 197.30 L521.30 199.30 Z" fill="#ccd" stroke="#3535f8" stroke-width="1.1"/>
<path d="M522.20 209.50 L524.40 207.50 L526.60 209.50 L524.40 211.50 Z" fill="#ccd" stroke="#3535f8" stroke-width="1.1"/>
<path d="M524.20 246.60 L526.40 244.60 L528.60 246.60 L526.40 248.60 Z" fill="#ccd" stroke="#3535f8" stroke-width="1.1"/>
<path d="M528.60 191.50 L530.80 189.50 L533.00 191.50 L530.80 193.50 Z" fill="#ccd" stroke="#3535f8" stroke-width="1.1"/>
<path d="M531.30 174.80 L533.50 172.80 L535.70 174.80 L533.50 176.80 Z" fill="#ccd" stroke="#3535f8" stroke-width="1.1"/>
<path d="M533.80 183.70 L536.00 181.70 L538.20 183.70 L536.00 185.70 Z" fill="#ccd" stroke="#3535f8" stroke-width="1.1"/>
<path d="M536.90 164.00 L539.10 162.00 L541.30 164.00 L539.10 166.00 Z" fill="#ccd" stroke="#3535f8" stroke-width="1.1"/>
<path d="M545.00 131.00 L547.20 129.00 L549.40 131.00 L547.20 133.00 Z" fill="#ccd" stroke="#3535f8" stroke-width="1.1"/>
<path d="M550.40 136.50 L552.60 134.50 L554.80 136.50 L552.60 138.50 Z" fill="#ccd" stroke="#3535f8" stroke-width="1.1"/>
<path d="M564.80 159.80 L567.00 157.80 L569.20 159.80 L567.00 161.80 Z" fill="#ccd" stroke="#3535f8" stroke-width="1.1"/>
<path d="M571.00 148.80 L573.20 146.80 L575.40 148.80 L573.20 150.80 Z" fill="#ccd" stroke="#3535f8" stroke-width="1.1"/>
<path d="M584.20 170.40 L586.40 168.40 L588.60 170.40 L586.40 172.40 Z" fill="#ccd" stroke="#3535f8" stroke-width="1.1"/>
<path d="M590.30 148.10 L592.50 146.10 L594.70 148.10 L592.50 150.10 Z" fill="#ccd" stroke="#3535f8" stroke-width="1.1"/>
<path d="M598.60 159.40 L600.80 157.40 L603.00 159.40 L600.80 161.40 Z" fill="#ccd" stroke="#3535f8" stroke-width="1.1"/>
<path d="M642.40 151.90 L644.60 149.90 L646.80 151.90 L644.60 153.90 Z" fill="#ccd" stroke="#3535f8" stroke-width="1.1"/>
<line x1="161.20" y1="243.20" x2="161.20" y2="251.60" stroke="#ff10f0" stroke-width="1.35"/>
<line x1="161.20" y1="259.40" x2="161.20" y2="266.60" stroke="#ff10f0" stroke-width="1.35"/>
<line x1="193.80" y1="231.00" x2="193.80" y2="239.40" stroke="#ff10f0" stroke-width="1.35"/>
<line x1="193.80" y1="247.20" x2="193.80" y2="254.10" stroke="#ff10f0" stroke-width="1.35"/>
<line x1="226.10" y1="233.30" x2="226.10" y2="239.40" stroke="#ff10f0" stroke-width="1.35"/>
<line x1="226.10" y1="247.20" x2="226.10" y2="252.00" stroke="#ff10f0" stroke-width="1.35"/>
<line x1="242.60" y1="231.60" x2="242.60" y2="239.00" stroke="#ff10f0" stroke-width="1.35"/>
<line x1="242.60" y1="246.80" x2="242.60" y2="252.60" stroke="#ff10f0" stroke-width="1.35"/>
<line x1="258.70" y1="234.00" x2="258.70" y2="239.40" stroke="#ff10f0" stroke-width="1.35"/>
<line x1="258.70" y1="247.20" x2="258.70" y2="251.00" stroke="#ff10f0" stroke-width="1.35"/>
<line x1="274.70" y1="238.80" x2="274.70" y2="244.50" stroke="#ff10f0" stroke-width="1.35"/>
<line x1="274.70" y1="252.30" x2="274.70" y2="256.70" stroke="#ff10f0" stroke-width="1.35"/>
<line x1="291.00" y1="245.90" x2="291.00" y2="252.20" stroke="#ff10f0" stroke-width="1.35"/>
<line x1="291.00" y1="260.00" x2="291.00" y2="265.20" stroke="#ff10f0" stroke-width="1.35"/>
<line x1="307.50" y1="243.40" x2="307.50" y2="249.60" stroke="#ff10f0" stroke-width="1.35"/>
<line x1="307.50" y1="257.40" x2="307.50" y2="261.50" stroke="#ff10f0" stroke-width="1.35"/>
<line x1="323.30" y1="245.50" x2="323.30" y2="250.00" stroke="#ff10f0" stroke-width="1.35"/>
<line x1="323.30" y1="257.80" x2="323.30" y2="260.50" stroke="#ff10f0" stroke-width="1.35"/>
<line x1="436.70" y1="244.50" x2="436.70" y2="248.70" stroke="#ff10f0" stroke-width="1.35"/>
<line x1="436.70" y1="256.50" x2="436.70" y2="258.30" stroke="#ff10f0" stroke-width="1.35"/>
<line x1="442.10" y1="250.30" x2="442.10" y2="256.80" stroke="#ff10f0" stroke-width="1.35"/>
<line x1="442.10" y1="264.60" x2="442.10" y2="270.00" stroke="#ff10f0" stroke-width="1.35"/>
<line x1="444.80" y1="228.00" x2="444.80" y2="233.90" stroke="#ff10f0" stroke-width="1.35"/>
<line x1="444.80" y1="241.70" x2="444.80" y2="246.00" stroke="#ff10f0" stroke-width="1.35"/>
<line x1="447.80" y1="129.70" x2="447.80" y2="151.80" stroke="#ff10f0" stroke-width="1.35"/>
<line x1="447.80" y1="159.60" x2="447.80" y2="180.00" stroke="#ff10f0" stroke-width="1.35"/>
<line x1="448.00" y1="148.00" x2="448.00" y2="166.60" stroke="#ff10f0" stroke-width="1.35"/>
<line x1="448.00" y1="174.40" x2="448.00" y2="192.00" stroke="#ff10f0" stroke-width="1.35"/>
<line x1="448.30" y1="168.00" x2="448.30" y2="183.50" stroke="#ff10f0" stroke-width="1.35"/>
<line x1="448.30" y1="191.30" x2="448.30" y2="205.00" stroke="#ff10f0" stroke-width="1.35"/>
<line x1="448.60" y1="180.00" x2="448.60" y2="193.00" stroke="#ff10f0" stroke-width="1.35"/>
<line x1="448.60" y1="200.80" x2="448.60" y2="213.00" stroke="#ff10f0" stroke-width="1.35"/>
<line x1="446.30" y1="205.00" x2="446.30" y2="215.10" stroke="#ff10f0" stroke-width="1.35"/>
<line x1="446.30" y1="222.90" x2="446.30" y2="232.00" stroke="#ff10f0" stroke-width="1.35"/>
<line x1="451.50" y1="216.00" x2="451.50" y2="224.40" stroke="#ff10f0" stroke-width="1.35"/>
<line x1="451.50" y1="232.20" x2="451.50" y2="240.00" stroke="#ff10f0" stroke-width="1.35"/>
<line x1="445.30" y1="227.00" x2="445.30" y2="233.80" stroke="#ff10f0" stroke-width="1.35"/>
<line x1="445.30" y1="241.60" x2="445.30" y2="247.00" stroke="#ff10f0" stroke-width="1.35"/>
<line x1="454.70" y1="232.90" x2="454.70" y2="239.40" stroke="#ff10f0" stroke-width="1.35"/>
<line x1="454.70" y1="247.20" x2="454.70" y2="251.80" stroke="#ff10f0" stroke-width="1.35"/>
<line x1="461.40" y1="228.00" x2="461.40" y2="233.60" stroke="#ff10f0" stroke-width="1.35"/>
<line x1="461.40" y1="241.40" x2="461.40" y2="246.00" stroke="#ff10f0" stroke-width="1.35"/>
<line x1="467.80" y1="216.00" x2="467.80" y2="223.20" stroke="#ff10f0" stroke-width="1.35"/>
<line x1="467.80" y1="231.00" x2="467.80" y2="237.00" stroke="#ff10f0" stroke-width="1.35"/>
<line x1="474.20" y1="180.00" x2="474.20" y2="189.40" stroke="#ff10f0" stroke-width="1.35"/>
<line x1="474.20" y1="197.20" x2="474.20" y2="205.00" stroke="#ff10f0" stroke-width="1.35"/>
<line x1="477.10" y1="196.00" x2="477.10" y2="204.00" stroke="#ff10f0" stroke-width="1.35"/>
<line x1="477.10" y1="211.80" x2="477.10" y2="219.00" stroke="#ff10f0" stroke-width="1.35"/>
<line x1="478.80" y1="206.00" x2="478.80" y2="213.90" stroke="#ff10f0" stroke-width="1.35"/>
<line x1="478.80" y1="221.70" x2="478.80" y2="228.00" stroke="#ff10f0" stroke-width="1.35"/>
<line x1="481.20" y1="174.00" x2="481.20" y2="182.90" stroke="#ff10f0" stroke-width="1.35"/>
<line x1="481.20" y1="190.70" x2="481.20" y2="198.00" stroke="#ff10f0" stroke-width="1.35"/>
<line x1="483.50" y1="189.00" x2="483.50" y2="197.10" stroke="#ff10f0" stroke-width="1.35"/>
<line x1="483.50" y1="204.90" x2="483.50" y2="212.00" stroke="#ff10f0" stroke-width="1.35"/>
<line x1="485.80" y1="182.00" x2="485.80" y2="190.70" stroke="#ff10f0" stroke-width="1.35"/>
<line x1="485.80" y1="198.50" x2="485.80" y2="206.00" stroke="#ff10f0" stroke-width="1.35"/>
<line x1="487.60" y1="158.00" x2="487.60" y2="168.60" stroke="#ff10f0" stroke-width="1.35"/>
<line x1="487.60" y1="176.40" x2="487.60" y2="186.00" stroke="#ff10f0" stroke-width="1.35"/>
<line x1="488.70" y1="96.00" x2="488.70" y2="112.40" stroke="#ff10f0" stroke-width="1.35"/>
<line x1="488.70" y1="120.20" x2="488.70" y2="135.00" stroke="#ff10f0" stroke-width="1.35"/>
<line x1="489.70" y1="88.00" x2="489.70" y2="102.50" stroke="#ff10f0" stroke-width="1.35"/>
<line x1="489.70" y1="110.30" x2="489.70" y2="124.00" stroke="#ff10f0" stroke-width="1.35"/>
<line x1="490.30" y1="88.50" x2="490.30" y2="104.10" stroke="#ff10f0" stroke-width="1.35"/>
<line x1="490.30" y1="111.90" x2="490.30" y2="126.00" stroke="#ff10f0" stroke-width="1.35"/>
<line x1="491.60" y1="102.00" x2="491.60" y2="116.50" stroke="#ff10f0" stroke-width="1.35"/>
<line x1="491.60" y1="124.30" x2="491.60" y2="138.00" stroke="#ff10f0" stroke-width="1.35"/>
<line x1="495.70" y1="86.20" x2="495.70" y2="99.30" stroke="#ff10f0" stroke-width="1.35"/>
<line x1="495.70" y1="107.10" x2="495.70" y2="119.00" stroke="#ff10f0" stroke-width="1.35"/>
<line x1="496.60" y1="87.00" x2="496.60" y2="99.80" stroke="#ff10f0" stroke-width="1.35"/>
<line x1="496.60" y1="107.60" x2="496.60" y2="120.00" stroke="#ff10f0" stroke-width="1.35"/>
<line x1="498.60" y1="111.20" x2="498.60" y2="122.90" stroke="#ff10f0" stroke-width="1.35"/>
<line x1="498.60" y1="130.70" x2="498.60" y2="141.00" stroke="#ff10f0" stroke-width="1.35"/>
<line x1="492.50" y1="112.00" x2="492.50" y2="124.60" stroke="#ff10f0" stroke-width="1.35"/>
<line x1="492.50" y1="132.40" x2="492.50" y2="144.00" stroke="#ff10f0" stroke-width="1.35"/>
<line x1="494.00" y1="121.00" x2="494.00" y2="132.60" stroke="#ff10f0" stroke-width="1.35"/>
<line x1="494.00" y1="140.40" x2="494.00" y2="151.00" stroke="#ff10f0" stroke-width="1.35"/>
<line x1="496.00" y1="116.00" x2="496.00" y2="127.60" stroke="#ff10f0" stroke-width="1.35"/>
<line x1="496.00" y1="135.40" x2="496.00" y2="146.00" stroke="#ff10f0" stroke-width="1.35"/>
<line x1="499.50" y1="124.00" x2="499.50" y2="134.60" stroke="#ff10f0" stroke-width="1.35"/>
<line x1="499.50" y1="142.40" x2="499.50" y2="152.00" stroke="#ff10f0" stroke-width="1.35"/>
<line x1="501.00" y1="119.00" x2="501.00" y2="129.60" stroke="#ff10f0" stroke-width="1.35"/>
<line x1="501.00" y1="137.40" x2="501.00" y2="147.00" stroke="#ff10f0" stroke-width="1.35"/>
<line x1="502.50" y1="128.00" x2="502.50" y2="138.60" stroke="#ff10f0" stroke-width="1.35"/>
<line x1="502.50" y1="146.40" x2="502.50" y2="156.00" stroke="#ff10f0" stroke-width="1.35"/>
<line x1="504.00" y1="123.00" x2="504.00" y2="133.60" stroke="#ff10f0" stroke-width="1.35"/>
<line x1="504.00" y1="141.40" x2="504.00" y2="151.00" stroke="#ff10f0" stroke-width="1.35"/>
<line x1="505.50" y1="130.00" x2="505.50" y2="140.60" stroke="#ff10f0" stroke-width="1.35"/>
<line x1="505.50" y1="148.40" x2="505.50" y2="158.00" stroke="#ff10f0" stroke-width="1.35"/>
<line x1="507.00" y1="125.00" x2="507.00" y2="135.60" stroke="#ff10f0" stroke-width="1.35"/>
<line x1="507.00" y1="143.40" x2="507.00" y2="153.00" stroke="#ff10f0" stroke-width="1.35"/>
<line x1="500.50" y1="133.00" x2="500.50" y2="143.60" stroke="#ff10f0" stroke-width="1.35"/>
<line x1="500.50" y1="151.40" x2="500.50" y2="161.00" stroke="#ff10f0" stroke-width="1.35"/>
<line x1="503.30" y1="136.00" x2="503.30" y2="146.60" stroke="#ff10f0" stroke-width="1.35"/>
<line x1="503.30" y1="154.40" x2="503.30" y2="164.00" stroke="#ff10f0" stroke-width="1.35"/>
<line x1="506.20" y1="117.00" x2="506.20" y2="127.60" stroke="#ff10f0" stroke-width="1.35"/>
<line x1="506.20" y1="135.40" x2="506.20" y2="145.00" stroke="#ff10f0" stroke-width="1.35"/>
<line x1="508.50" y1="140.00" x2="508.50" y2="149.90" stroke="#ff10f0" stroke-width="1.35"/>
<line x1="508.50" y1="157.70" x2="508.50" y2="167.00" stroke="#ff10f0" stroke-width="1.35"/>
<line x1="509.00" y1="113.50" x2="509.00" y2="126.40" stroke="#ff10f0" stroke-width="1.35"/>
<line x1="509.00" y1="134.20" x2="509.00" y2="146.00" stroke="#ff10f0" stroke-width="1.35"/>
<line x1="511.00" y1="123.00" x2="511.00" y2="133.60" stroke="#ff10f0" stroke-width="1.35"/>
<line x1="511.00" y1="141.40" x2="511.00" y2="151.00" stroke="#ff10f0" stroke-width="1.35"/>
<line x1="513.70" y1="115.80" x2="513.70" y2="127.50" stroke="#ff10f0" stroke-width="1.35"/>
<line x1="513.70" y1="135.30" x2="513.70" y2="146.00" stroke="#ff10f0" stroke-width="1.35"/>
<line x1="515.50" y1="126.00" x2="515.50" y2="136.60" stroke="#ff10f0" stroke-width="1.35"/>
<line x1="515.50" y1="144.40" x2="515.50" y2="154.00" stroke="#ff10f0" stroke-width="1.35"/>
<line x1="518.40" y1="137.00" x2="518.40" y2="146.90" stroke="#ff10f0" stroke-width="1.35"/>
<line x1="518.40" y1="154.70" x2="518.40" y2="164.00" stroke="#ff10f0" stroke-width="1.35"/>
<line x1="521.30" y1="153.00" x2="521.30" y2="163.00" stroke="#ff10f0" stroke-width="1.35"/>
<line x1="521.30" y1="170.80" x2="521.30" y2="180.00" stroke="#ff10f0" stroke-width="1.35"/>
<line x1="520.30" y1="179.00" x2="520.30" y2="188.10" stroke="#ff10f0" stroke-width="1.35"/>
<line x1="520.30" y1="195.90" x2="520.30" y2="204.00" stroke="#ff10f0" stroke-width="1.35"/>
<line x1="523.00" y1="187.00" x2="523.00" y2="195.60" stroke="#ff10f0" stroke-width="1.35"/>
<line x1="523.00" y1="203.40" x2="523.00" y2="211.00" stroke="#ff10f0" stroke-width="1.35"/>
<line x1="524.50" y1="194.00" x2="524.50" y2="202.60" stroke="#ff10f0" stroke-width="1.35"/>
<line x1="524.50" y1="210.40" x2="524.50" y2="218.00" stroke="#ff10f0" stroke-width="1.35"/>
<line x1="528.50" y1="177.00" x2="528.50" y2="185.80" stroke="#ff10f0" stroke-width="1.35"/>
<line x1="528.50" y1="193.60" x2="528.50" y2="201.00" stroke="#ff10f0" stroke-width="1.35"/>
<line x1="534.30" y1="186.00" x2="534.30" y2="194.50" stroke="#ff10f0" stroke-width="1.35"/>
<line x1="534.30" y1="202.30" x2="534.30" y2="210.00" stroke="#ff10f0" stroke-width="1.35"/>
<line x1="526.70" y1="193.00" x2="526.70" y2="201.50" stroke="#ff10f0" stroke-width="1.35"/>
<line x1="526.70" y1="209.30" x2="526.70" y2="217.00" stroke="#ff10f0" stroke-width="1.35"/>
<line x1="537.80" y1="196.00" x2="537.80" y2="203.80" stroke="#ff10f0" stroke-width="1.35"/>
<line x1="537.80" y1="211.60" x2="537.80" y2="217.80" stroke="#ff10f0" stroke-width="1.35"/>
<line x1="527.90" y1="200.00" x2="527.90" y2="208.50" stroke="#ff10f0" stroke-width="1.35"/>
<line x1="527.90" y1="216.30" x2="527.90" y2="224.00" stroke="#ff10f0" stroke-width="1.35"/>
<line x1="526.20" y1="211.00" x2="526.20" y2="218.90" stroke="#ff10f0" stroke-width="1.35"/>
<line x1="526.20" y1="226.70" x2="526.20" y2="233.30" stroke="#ff10f0" stroke-width="1.35"/>
<line x1="530.00" y1="188.00" x2="530.00" y2="196.60" stroke="#ff10f0" stroke-width="1.35"/>
<line x1="530.00" y1="204.40" x2="530.00" y2="212.00" stroke="#ff10f0" stroke-width="1.35"/>
<line x1="532.00" y1="181.00" x2="532.00" y2="189.60" stroke="#ff10f0" stroke-width="1.35"/>
<line x1="532.00" y1="197.40" x2="532.00" y2="205.00" stroke="#ff10f0" stroke-width="1.35"/>
<line x1="541.30" y1="176.00" x2="541.30" y2="184.00" stroke="#ff10f0" stroke-width="1.35"/>
<line x1="541.30" y1="191.80" x2="541.30" y2="199.00" stroke="#ff10f0" stroke-width="1.35"/>
<line x1="542.40" y1="163.00" x2="542.40" y2="171.80" stroke="#ff10f0" stroke-width="1.35"/>
<line x1="542.40" y1="179.60" x2="542.40" y2="187.00" stroke="#ff10f0" stroke-width="1.35"/>
<line x1="548.80" y1="162.00" x2="548.80" y2="170.70" stroke="#ff10f0" stroke-width="1.35"/>
<line x1="548.80" y1="178.50" x2="548.80" y2="186.00" stroke="#ff10f0" stroke-width="1.35"/>
<line x1="541.00" y1="163.00" x2="541.00" y2="171.40" stroke="#ff10f0" stroke-width="1.35"/>
<line x1="541.00" y1="179.20" x2="541.00" y2="187.00" stroke="#ff10f0" stroke-width="1.35"/>
<line x1="545.10" y1="162.00" x2="545.10" y2="170.80" stroke="#ff10f0" stroke-width="1.35"/>
<line x1="545.10" y1="178.60" x2="545.10" y2="186.00" stroke="#ff10f0" stroke-width="1.35"/>
<line x1="547.60" y1="162.00" x2="547.60" y2="170.30" stroke="#ff10f0" stroke-width="1.35"/>
<line x1="547.60" y1="178.10" x2="547.60" y2="186.00" stroke="#ff10f0" stroke-width="1.35"/>
<line x1="544.00" y1="153.00" x2="544.00" y2="162.60" stroke="#ff10f0" stroke-width="1.35"/>
<line x1="544.00" y1="170.40" x2="544.00" y2="179.00" stroke="#ff10f0" stroke-width="1.35"/>
<line x1="546.50" y1="147.00" x2="546.50" y2="156.60" stroke="#ff10f0" stroke-width="1.35"/>
<line x1="546.50" y1="164.40" x2="546.50" y2="173.00" stroke="#ff10f0" stroke-width="1.35"/>
<line x1="549.00" y1="141.00" x2="549.00" y2="150.60" stroke="#ff10f0" stroke-width="1.35"/>
<line x1="549.00" y1="158.40" x2="549.00" y2="167.00" stroke="#ff10f0" stroke-width="1.35"/>
<line x1="550.30" y1="135.00" x2="550.30" y2="145.20" stroke="#ff10f0" stroke-width="1.35"/>
<line x1="550.30" y1="153.00" x2="550.30" y2="162.00" stroke="#ff10f0" stroke-width="1.35"/>
<line x1="551.00" y1="134.00" x2="551.00" y2="144.20" stroke="#ff10f0" stroke-width="1.35"/>
<line x1="551.00" y1="152.00" x2="551.00" y2="161.00" stroke="#ff10f0" stroke-width="1.35"/>
<line x1="553.00" y1="130.00" x2="553.00" y2="140.60" stroke="#ff10f0" stroke-width="1.35"/>
<line x1="553.00" y1="148.40" x2="553.00" y2="158.00" stroke="#ff10f0" stroke-width="1.35"/>
<line x1="556.20" y1="125.80" x2="556.20" y2="138.20" stroke="#ff10f0" stroke-width="1.35"/>
<line x1="556.20" y1="146.00" x2="556.20" y2="157.00" stroke="#ff10f0" stroke-width="1.35"/>
<line x1="555.70" y1="126.00" x2="555.70" y2="137.50" stroke="#ff10f0" stroke-width="1.35"/>
<line x1="555.70" y1="145.30" x2="555.70" y2="156.00" stroke="#ff10f0" stroke-width="1.35"/>
<line x1="558.00" y1="138.00" x2="558.00" y2="148.20" stroke="#ff10f0" stroke-width="1.35"/>
<line x1="558.00" y1="156.00" x2="558.00" y2="165.00" stroke="#ff10f0" stroke-width="1.35"/>
<line x1="559.20" y1="144.00" x2="559.20" y2="154.00" stroke="#ff10f0" stroke-width="1.35"/>
<line x1="559.20" y1="161.80" x2="559.20" y2="171.00" stroke="#ff10f0" stroke-width="1.35"/>
<line x1="560.90" y1="158.00" x2="560.90" y2="167.40" stroke="#ff10f0" stroke-width="1.35"/>
<line x1="560.90" y1="175.20" x2="560.90" y2="184.00" stroke="#ff10f0" stroke-width="1.35"/>
<line x1="562.80" y1="159.00" x2="562.80" y2="167.80" stroke="#ff10f0" stroke-width="1.35"/>
<line x1="562.80" y1="175.60" x2="562.80" y2="184.00" stroke="#ff10f0" stroke-width="1.35"/>
<line x1="567.30" y1="161.00" x2="567.30" y2="170.30" stroke="#ff10f0" stroke-width="1.35"/>
<line x1="567.30" y1="178.10" x2="567.30" y2="186.00" stroke="#ff10f0" stroke-width="1.35"/>
<line x1="564.50" y1="154.00" x2="564.50" y2="163.60" stroke="#ff10f0" stroke-width="1.35"/>
<line x1="564.50" y1="171.40" x2="564.50" y2="180.00" stroke="#ff10f0" stroke-width="1.35"/>
<line x1="570.80" y1="173.00" x2="570.80" y2="185.40" stroke="#ff10f0" stroke-width="1.35"/>
<line x1="570.80" y1="193.20" x2="570.80" y2="200.70" stroke="#ff10f0" stroke-width="1.35"/>
<line x1="572.80" y1="177.00" x2="572.80" y2="186.60" stroke="#ff10f0" stroke-width="1.35"/>
<line x1="572.80" y1="194.40" x2="572.80" y2="204.30" stroke="#ff10f0" stroke-width="1.35"/>
<line x1="576.30" y1="153.40" x2="576.30" y2="162.80" stroke="#ff10f0" stroke-width="1.35"/>
<line x1="576.30" y1="170.60" x2="576.30" y2="178.40" stroke="#ff10f0" stroke-width="1.35"/>
<line x1="583.00" y1="173.00" x2="583.00" y2="181.80" stroke="#ff10f0" stroke-width="1.35"/>
<line x1="583.00" y1="189.60" x2="583.00" y2="197.00" stroke="#ff10f0" stroke-width="1.35"/>
<line x1="615.50" y1="148.70" x2="615.50" y2="160.60" stroke="#ff10f0" stroke-width="1.35"/>
<line x1="615.50" y1="168.40" x2="615.50" y2="178.20" stroke="#ff10f0" stroke-width="1.35"/>
<polygon points="161.20,251.00 162.20,253.87 165.24,253.94 162.82,255.78 163.70,258.69 161.20,256.95 158.70,258.69 159.58,255.78 157.16,253.94 160.20,253.87" fill="#ff10f0"/>
<polygon points="193.80,238.80 194.80,241.67 197.84,241.74 195.42,243.58 196.30,246.49 193.80,244.75 191.30,246.49 192.18,243.58 189.76,241.74 192.80,241.67" fill="#ff10f0"/>
<polygon points="226.10,238.80 227.10,241.67 230.14,241.74 227.72,243.58 228.60,246.49 226.10,244.75 223.60,246.49 224.48,243.58 222.06,241.74 225.10,241.67" fill="#ff10f0"/>
<polygon points="242.60,238.40 243.60,241.27 246.64,241.34 244.22,243.18 245.10,246.09 242.60,244.35 240.10,246.09 240.98,243.18 238.56,241.34 241.60,241.27" fill="#ff10f0"/>
<polygon points="258.70,238.80 259.70,241.67 262.74,241.74 260.32,243.58 261.20,246.49 258.70,244.75 256.20,246.49 257.08,243.58 254.66,241.74 257.70,241.67" fill="#ff10f0"/>
<polygon points="274.70,243.90 275.70,246.77 278.74,246.84 276.32,248.68 277.20,251.59 274.70,249.85 272.20,251.59 273.08,248.68 270.66,246.84 273.70,246.77" fill="#ff10f0"/>
<polygon points="291.00,251.60 292.00,254.47 295.04,254.54 292.62,256.38 293.50,259.29 291.00,257.55 288.50,259.29 289.38,256.38 286.96,254.54 290.00,254.47" fill="#ff10f0"/>
<polygon points="307.50,249.00 308.50,251.87 311.54,251.94 309.12,253.78 310.00,256.69 307.50,254.95 305.00,256.69 305.88,253.78 303.46,251.94 306.50,251.87" fill="#ff10f0"/>
<polygon points="323.30,249.40 324.30,252.27 327.34,252.34 324.92,254.18 325.80,257.09 323.30,255.35 320.80,257.09 321.68,254.18 319.26,252.34 322.30,252.27" fill="#ff10f0"/>
<polygon points="436.70,248.10 437.70,250.97 440.74,251.04 438.32,252.88 439.20,255.79 436.70,254.05 434.20,255.79 435.08,252.88 432.66,251.04 435.70,250.97" fill="#ff10f0"/>
<polygon points="442.10,256.20 443.10,259.07 446.14,259.14 443.72,260.98 444.60,263.89 442.10,262.15 439.60,263.89 440.48,260.98 438.06,259.14 441.10,259.07" fill="#ff10f0"/>
<polygon points="444.80,233.30 445.80,236.17 448.84,236.24 446.42,238.08 447.30,240.99 444.80,239.25 442.30,240.99 443.18,238.08 440.76,236.24 443.80,236.17" fill="#ff10f0"/>
<polygon points="447.80,151.20 448.80,154.07 451.84,154.14 449.42,155.98 450.30,158.89 447.80,157.15 445.30,158.89 446.18,155.98 443.76,154.14 446.80,154.07" fill="#ff10f0"/>
<polygon points="448.00,166.00 449.00,168.87 452.04,168.94 449.62,170.78 450.50,173.69 448.00,171.95 445.50,173.69 446.38,170.78 443.96,168.94 447.00,168.87" fill="#ff10f0"/>
<polygon points="448.30,182.90 449.30,185.77 452.34,185.84 449.92,187.68 450.80,190.59 448.30,188.85 445.80,190.59 446.68,187.68 444.26,185.84 447.30,185.77" fill="#ff10f0"/>
<polygon points="448.60,192.40 449.60,195.27 452.64,195.34 450.22,197.18 451.10,200.09 448.60,198.35 446.10,200.09 446.98,197.18 444.56,195.34 447.60,195.27" fill="#ff10f0"/>
<polygon points="446.30,214.50 447.30,217.37 450.34,217.44 447.92,219.28 448.80,222.19 446.30,220.45 443.80,222.19 444.68,219.28 442.26,217.44 445.30,217.37" fill="#ff10f0"/>
<polygon points="451.50,223.80 452.50,226.67 455.54,226.74 453.12,228.58 454.00,231.49 451.50,229.75 449.00,231.49 449.88,228.58 447.46,226.74 450.50,226.67" fill="#ff10f0"/>
<polygon points="445.30,233.20 446.30,236.07 449.34,236.14 446.92,237.98 447.80,240.89 445.30,239.15 442.80,240.89 443.68,237.98 441.26,236.14 444.30,236.07" fill="#ff10f0"/>
<polygon points="454.70,238.80 455.70,241.67 458.74,241.74 456.32,243.58 457.20,246.49 454.70,244.75 452.20,246.49 453.08,243.58 450.66,241.74 453.70,241.67" fill="#ff10f0"/>
<polygon points="461.40,233.00 462.40,235.87 465.44,235.94 463.02,237.78 463.90,240.69 461.40,238.95 458.90,240.69 459.78,237.78 457.36,235.94 460.40,235.87" fill="#ff10f0"/>
<polygon points="467.80,222.60 468.80,225.47 471.84,225.54 469.42,227.38 470.30,230.29 467.80,228.55 465.30,230.29 466.18,227.38 463.76,225.54 466.80,225.47" fill="#ff10f0"/>
<polygon points="474.20,188.80 475.20,191.67 478.24,191.74 475.82,193.58 476.70,196.49 474.20,194.75 471.70,196.49 472.58,193.58 470.16,191.74 473.20,191.67" fill="#ff10f0"/>
<polygon points="477.10,203.40 478.10,206.27 481.14,206.34 478.72,208.18 479.60,211.09 477.10,209.35 474.60,211.09 475.48,208.18 473.06,206.34 476.10,206.27" fill="#ff10f0"/>
<polygon points="478.80,213.30 479.80,216.17 482.84,216.24 480.42,218.08 481.30,220.99 478.80,219.25 476.30,220.99 477.18,218.08 474.76,216.24 477.80,216.17" fill="#ff10f0"/>
<polygon points="481.20,182.30 482.20,185.17 485.24,185.24 482.82,187.08 483.70,189.99 481.20,188.25 478.70,189.99 479.58,187.08 477.16,185.24 480.20,185.17" fill="#ff10f0"/>
<polygon points="483.50,196.50 484.50,199.37 487.54,199.44 485.12,201.28 486.00,204.19 483.50,202.45 481.00,204.19 481.88,201.28 479.46,199.44 482.50,199.37" fill="#ff10f0"/>
<polygon points="485.80,190.10 486.80,192.97 489.84,193.04 487.42,194.88 488.30,197.79 485.80,196.05 483.30,197.79 484.18,194.88 481.76,193.04 484.80,192.97" fill="#ff10f0"/>
<polygon points="487.60,168.00 488.60,170.87 491.64,170.94 489.22,172.78 490.10,175.69 487.60,173.95 485.10,175.69 485.98,172.78 483.56,170.94 486.60,170.87" fill="#ff10f0"/>
<polygon points="488.70,111.80 489.70,114.67 492.74,114.74 490.32,116.58 491.20,119.49 488.70,117.75 486.20,119.49 487.08,116.58 484.66,114.74 487.70,114.67" fill="#ff10f0"/>
<polygon points="489.70,101.90 490.70,104.77 493.74,104.84 491.32,106.68 492.20,109.59 489.70,107.85 487.20,109.59 488.08,106.68 485.66,104.84 488.70,104.77" fill="#ff10f0"/>
<polygon points="490.30,103.50 491.30,106.37 494.34,106.44 491.92,108.28 492.80,111.19 490.30,109.45 487.80,111.19 488.68,108.28 486.26,106.44 489.30,106.37" fill="#ff10f0"/>
<polygon points="491.60,115.90 492.60,118.77 495.64,118.84 493.22,120.68 494.10,123.59 491.60,121.85 489.10,123.59 489.98,120.68 487.56,118.84 490.60,118.77" fill="#ff10f0"/>
<polygon points="495.70,98.70 496.70,101.57 499.74,101.64 497.32,103.48 498.20,106.39 495.70,104.65 493.20,106.39 494.08,103.48 491.66,101.64 494.70,101.57" fill="#ff10f0"/>
<polygon points="496.60,99.20 497.60,102.07 500.64,102.14 498.22,103.98 499.10,106.89 496.60,105.15 494.10,106.89 494.98,103.98 492.56,102.14 495.60,102.07" fill="#ff10f0"/>
<polygon points="498.60,122.30 499.60,125.17 502.64,125.24 500.22,127.08 501.10,129.99 498.60,128.25 496.10,129.99 496.98,127.08 494.56,125.24 497.60,125.17" fill="#ff10f0"/>
<polygon points="492.50,124.00 493.50,126.87 496.54,126.94 494.12,128.78 495.00,131.69 492.50,129.95 490.00,131.69 490.88,128.78 488.46,126.94 491.50,126.87" fill="#ff10f0"/>
<polygon points="494.00,132.00 495.00,134.87 498.04,134.94 495.62,136.78 496.50,139.69 494.00,137.95 491.50,139.69 492.38,136.78 489.96,134.94 493.00,134.87" fill="#ff10f0"/>
<polygon points="496.00,127.00 497.00,129.87 500.04,129.94 497.62,131.78 498.50,134.69 496.00,132.95 493.50,134.69 494.38,131.78 491.96,129.94 495.00,129.87" fill="#ff10f0"/>
<polygon points="499.50,134.00 500.50,136.87 503.54,136.94 501.12,138.78 502.00,141.69 499.50,139.95 497.00,141.69 497.88,138.78 495.46,136.94 498.50,136.87" fill="#ff10f0"/>
<polygon points="501.00,129.00 502.00,131.87 505.04,131.94 502.62,133.78 503.50,136.69 501.00,134.95 498.50,136.69 499.38,133.78 496.96,131.94 500.00,131.87" fill="#ff10f0"/>
<polygon points="502.50,138.00 503.50,140.87 506.54,140.94 504.12,142.78 505.00,145.69 502.50,143.95 500.00,145.69 500.88,142.78 498.46,140.94 501.50,140.87" fill="#ff10f0"/>
<polygon points="504.00,133.00 505.00,135.87 508.04,135.94 505.62,137.78 506.50,140.69 504.00,138.95 501.50,140.69 502.38,137.78 499.96,135.94 503.00,135.87" fill="#ff10f0"/>
<polygon points="505.50,140.00 506.50,142.87 509.54,142.94 507.12,144.78 508.00,147.69 505.50,145.95 503.00,147.69 503.88,144.78 501.46,142.94 504.50,142.87" fill="#ff10f0"/>
<polygon points="507.00,135.00 508.00,137.87 511.04,137.94 508.62,139.78 509.50,142.69 507.00,140.95 504.50,142.69 505.38,139.78 502.96,137.94 506.00,137.87" fill="#ff10f0"/>
<polygon points="500.50,143.00 501.50,145.87 504.54,145.94 502.12,147.78 503.00,150.69 500.50,148.95 498.00,150.69 498.88,147.78 496.46,145.94 499.50,145.87" fill="#ff10f0"/>
<polygon points="503.30,146.00 504.30,148.87 507.34,148.94 504.92,150.78 505.80,153.69 503.30,151.95 500.80,153.69 501.68,150.78 499.26,148.94 502.30,148.87" fill="#ff10f0"/>
<polygon points="506.20,127.00 507.20,129.87 510.24,129.94 507.82,131.78 508.70,134.69 506.20,132.95 503.70,134.69 504.58,131.78 502.16,129.94 505.20,129.87" fill="#ff10f0"/>
<polygon points="508.50,149.30 509.50,152.17 512.54,152.24 510.12,154.08 511.00,156.99 508.50,155.25 506.00,156.99 506.88,154.08 504.46,152.24 507.50,152.17" fill="#ff10f0"/>
<polygon points="509.00,125.80 510.00,128.67 513.04,128.74 510.62,130.58 511.50,133.49 509.00,131.75 506.50,133.49 507.38,130.58 504.96,128.74 508.00,128.67" fill="#ff10f0"/>
<polygon points="511.00,133.00 512.00,135.87 515.04,135.94 512.62,137.78 513.50,140.69 511.00,138.95 508.50,140.69 509.38,137.78 506.96,135.94 510.00,135.87" fill="#ff10f0"/>
<polygon points="513.70,126.90 514.70,129.77 517.74,129.84 515.32,131.68 516.20,134.59 513.70,132.85 511.20,134.59 512.08,131.68 509.66,129.84 512.70,129.77" fill="#ff10f0"/>
<polygon points="515.50,136.00 516.50,138.87 519.54,138.94 517.12,140.78 518.00,143.69 515.50,141.95 513.00,143.69 513.88,140.78 511.46,138.94 514.50,138.87" fill="#ff10f0"/>
<polygon points="518.40,146.30 519.40,149.17 522.44,149.24 520.02,151.08 520.90,153.99 518.40,152.25 515.90,153.99 516.78,151.08 514.36,149.24 517.40,149.17" fill="#ff10f0"/>
<polygon points="521.30,162.40 522.30,165.27 525.34,165.34 522.92,167.18 523.80,170.09 521.30,168.35 518.80,170.09 519.68,167.18 517.26,165.34 520.30,165.27" fill="#ff10f0"/>
<polygon points="520.30,187.50 521.30,190.37 524.34,190.44 521.92,192.28 522.80,195.19 520.30,193.45 517.80,195.19 518.68,192.28 516.26,190.44 519.30,190.37" fill="#ff10f0"/>
<polygon points="523.00,195.00 524.00,197.87 527.04,197.94 524.62,199.78 525.50,202.69 523.00,200.95 520.50,202.69 521.38,199.78 518.96,197.94 522.00,197.87" fill="#ff10f0"/>
<polygon points="524.50,202.00 525.50,204.87 528.54,204.94 526.12,206.78 527.00,209.69 524.50,207.95 522.00,209.69 522.88,206.78 520.46,204.94 523.50,204.87" fill="#ff10f0"/>
<polygon points="528.50,185.20 529.50,188.07 532.54,188.14 530.12,189.98 531.00,192.89 528.50,191.15 526.00,192.89 526.88,189.98 524.46,188.14 527.50,188.07" fill="#ff10f0"/>
<polygon points="534.30,193.90 535.30,196.77 538.34,196.84 535.92,198.68 536.80,201.59 534.30,199.85 531.80,201.59 532.68,198.68 530.26,196.84 533.30,196.77" fill="#ff10f0"/>
<polygon points="526.70,200.90 527.70,203.77 530.74,203.84 528.32,205.68 529.20,208.59 526.70,206.85 524.20,208.59 525.08,205.68 522.66,203.84 525.70,203.77" fill="#ff10f0"/>
<polygon points="537.80,203.20 538.80,206.07 541.84,206.14 539.42,207.98 540.30,210.89 537.80,209.15 535.30,210.89 536.18,207.98 533.76,206.14 536.80,206.07" fill="#ff10f0"/>
<polygon points="527.90,207.90 528.90,210.77 531.94,210.84 529.52,212.68 530.40,215.59 527.90,213.85 525.40,215.59 526.28,212.68 523.86,210.84 526.90,210.77" fill="#ff10f0"/>
<polygon points="526.20,218.30 527.20,221.17 530.24,221.24 527.82,223.08 528.70,225.99 526.20,224.25 523.70,225.99 524.58,223.08 522.16,221.24 525.20,221.17" fill="#ff10f0"/>
<polygon points="530.00,196.00 531.00,198.87 534.04,198.94 531.62,200.78 532.50,203.69 530.00,201.95 527.50,203.69 528.38,200.78 525.96,198.94 529.00,198.87" fill="#ff10f0"/>
<polygon points="532.00,189.00 533.00,191.87 536.04,191.94 533.62,193.78 534.50,196.69 532.00,194.95 529.50,196.69 530.38,193.78 527.96,191.94 531.00,191.87" fill="#ff10f0"/>
<polygon points="541.30,183.40 542.30,186.27 545.34,186.34 542.92,188.18 543.80,191.09 541.30,189.35 538.80,191.09 539.68,188.18 537.26,186.34 540.30,186.27" fill="#ff10f0"/>
<polygon points="542.40,171.20 543.40,174.07 546.44,174.14 544.02,175.98 544.90,178.89 542.40,177.15 539.90,178.89 540.78,175.98 538.36,174.14 541.40,174.07" fill="#ff10f0"/>
<polygon points="548.80,170.10 549.80,172.97 552.84,173.04 550.42,174.88 551.30,177.79 548.80,176.05 546.30,177.79 547.18,174.88 544.76,173.04 547.80,172.97" fill="#ff10f0"/>
<polygon points="541.00,170.80 542.00,173.67 545.04,173.74 542.62,175.58 543.50,178.49 541.00,176.75 538.50,178.49 539.38,175.58 536.96,173.74 540.00,173.67" fill="#ff10f0"/>
<polygon points="545.10,170.20 546.10,173.07 549.14,173.14 546.72,174.98 547.60,177.89 545.10,176.15 542.60,177.89 543.48,174.98 541.06,173.14 544.10,173.07" fill="#ff10f0"/>
<polygon points="547.60,169.70 548.60,172.57 551.64,172.64 549.22,174.48 550.10,177.39 547.60,175.65 545.10,177.39 545.98,174.48 543.56,172.64 546.60,172.57" fill="#ff10f0"/>
<polygon points="544.00,162.00 545.00,164.87 548.04,164.94 545.62,166.78 546.50,169.69 544.00,167.95 541.50,169.69 542.38,166.78 539.96,164.94 543.00,164.87" fill="#ff10f0"/>
<polygon points="546.50,156.00 547.50,158.87 550.54,158.94 548.12,160.78 549.00,163.69 546.50,161.95 544.00,163.69 544.88,160.78 542.46,158.94 545.50,158.87" fill="#ff10f0"/>
<polygon points="549.00,150.00 550.00,152.87 553.04,152.94 550.62,154.78 551.50,157.69 549.00,155.95 546.50,157.69 547.38,154.78 544.96,152.94 548.00,152.87" fill="#ff10f0"/>
<polygon points="550.30,144.60 551.30,147.47 554.34,147.54 551.92,149.38 552.80,152.29 550.30,150.55 547.80,152.29 548.68,149.38 546.26,147.54 549.30,147.47" fill="#ff10f0"/>
<polygon points="551.00,143.60 552.00,146.47 555.04,146.54 552.62,148.38 553.50,151.29 551.00,149.55 548.50,151.29 549.38,148.38 546.96,146.54 550.00,146.47" fill="#ff10f0"/>
<polygon points="553.00,140.00 554.00,142.87 557.04,142.94 554.62,144.78 555.50,147.69 553.00,145.95 550.50,147.69 551.38,144.78 548.96,142.94 552.00,142.87" fill="#ff10f0"/>
<polygon points="556.20,137.60 557.20,140.47 560.24,140.54 557.82,142.38 558.70,145.29 556.20,143.55 553.70,145.29 554.58,142.38 552.16,140.54 555.20,140.47" fill="#ff10f0"/>
<polygon points="555.70,136.90 556.70,139.77 559.74,139.84 557.32,141.68 558.20,144.59 555.70,142.85 553.20,144.59 554.08,141.68 551.66,139.84 554.70,139.77" fill="#ff10f0"/>
<polygon points="558.00,147.60 559.00,150.47 562.04,150.54 559.62,152.38 560.50,155.29 558.00,153.55 555.50,155.29 556.38,152.38 553.96,150.54 557.00,150.47" fill="#ff10f0"/>
<polygon points="559.20,153.40 560.20,156.27 563.24,156.34 560.82,158.18 561.70,161.09 559.20,159.35 556.70,161.09 557.58,158.18 555.16,156.34 558.20,156.27" fill="#ff10f0"/>
<polygon points="560.90,166.80 561.90,169.67 564.94,169.74 562.52,171.58 563.40,174.49 560.90,172.75 558.40,174.49 559.28,171.58 556.86,169.74 559.90,169.67" fill="#ff10f0"/>
<polygon points="562.80,167.20 563.80,170.07 566.84,170.14 564.42,171.98 565.30,174.89 562.80,173.15 560.30,174.89 561.18,171.98 558.76,170.14 561.80,170.07" fill="#ff10f0"/>
<polygon points="567.30,169.70 568.30,172.57 571.34,172.64 568.92,174.48 569.80,177.39 567.30,175.65 564.80,177.39 565.68,174.48 563.26,172.64 566.30,172.57" fill="#ff10f0"/>
<polygon points="564.50,163.00 565.50,165.87 568.54,165.94 566.12,167.78 567.00,170.69 564.50,168.95 562.00,170.69 562.88,167.78 560.46,165.94 563.50,165.87" fill="#ff10f0"/>
<polygon points="570.80,184.80 571.80,187.67 574.84,187.74 572.42,189.58 573.30,192.49 570.80,190.75 568.30,192.49 569.18,189.58 566.76,187.74 569.80,187.67" fill="#ff10f0"/>
<polygon points="572.80,186.00 573.80,188.87 576.84,188.94 574.42,190.78 575.30,193.69 572.80,191.95 570.30,193.69 571.18,190.78 568.76,188.94 571.80,188.87" fill="#ff10f0"/>
<polygon points="576.30,162.20 577.30,165.07 580.34,165.14 577.92,166.98 578.80,169.89 576.30,168.15 573.80,169.89 574.68,166.98 572.26,165.14 575.30,165.07" fill="#ff10f0"/>
<polygon points="583.00,181.20 584.00,184.07 587.04,184.14 584.62,185.98 585.50,188.89 583.00,187.15 580.50,188.89 581.38,185.98 578.96,184.14 582.00,184.07" fill="#ff10f0"/>
<polygon points="615.50,160.00 616.50,162.87 619.54,162.94 617.12,164.78 618.00,167.69 615.50,165.95 613.00,167.69 613.88,164.78 611.46,162.94 614.50,162.87" fill="#ff10f0"/>
<path d="M255.10 226.50 L258.70 221.70 L262.30 226.50 L258.70 231.30 Z" fill="#fff" stroke="#ff2020" stroke-width="1.1"/>
<line x1="258.70" y1="215.40" x2="258.70" y2="237.50" stroke="#ff2020" stroke-width="1.5"/>
<path d="M352.30 253.40 L355.90 248.60 L359.50 253.40 L355.90 258.20 Z" fill="#fff" stroke="#ff2020" stroke-width="1.1"/>
<line x1="355.90" y1="244.50" x2="355.90" y2="261.70" stroke="#ff2020" stroke-width="1.5"/>
<path d="M384.90 242.70 L388.50 237.90 L392.10 242.70 L388.50 247.50 Z" fill="#fff" stroke="#ff2020" stroke-width="1.1"/>
<line x1="388.50" y1="231.60" x2="388.50" y2="254.00" stroke="#ff2020" stroke-width="1.5"/>
<path d="M408.90 251.90 L412.50 247.10 L416.10 251.90 L412.50 256.70 Z" fill="#fff" stroke="#ff2020" stroke-width="1.1"/>
<line x1="412.50" y1="241.70" x2="412.50" y2="262.60" stroke="#ff2020" stroke-width="1.5"/>
<path d="M579.20 168.30 L582.80 163.50 L586.40 168.30 L582.80 173.10 Z" fill="#fff" stroke="#ff2020" stroke-width="1.1"/>
<line x1="582.80" y1="146.00" x2="582.80" y2="190.00" stroke="#ff2020" stroke-width="1.5"/>
<path d="M644.20 175.60 L647.80 170.80 L651.40 175.60 L647.80 180.40 Z" fill="#fff" stroke="#ff2020" stroke-width="1.1"/>
<line x1="647.80" y1="151.90" x2="647.80" y2="198.80" stroke="#ff2020" stroke-width="1.5"/>
<circle cx="388.5" cy="242.8" r="2.0" fill="none" stroke="#3535f8" stroke-width="0.9"/>
<line x1="258.70" y1="250.00" x2="258.70" y2="260.10" stroke="#000" stroke-width="1.3"/>
<ellipse cx="258.70" cy="255.00" rx="2.4" ry="2.7" fill="#000"/>
<line x1="334.50" y1="253.60" x2="334.50" y2="262.80" stroke="#000" stroke-width="1.3"/>
<ellipse cx="334.50" cy="258.10" rx="2.4" ry="2.7" fill="#000"/>
<line x1="429.00" y1="252.00" x2="429.00" y2="262.30" stroke="#000" stroke-width="1.3"/>
<ellipse cx="429.00" cy="257.30" rx="2.4" ry="2.7" fill="#000"/>
<rect x="55.85" y="3.5" width="600.05" height="386.0" fill="none" stroke="#5a5a5a" stroke-width="1.3"/>
<line x1="60.02" y1="389.5" x2="60.02" y2="387.5" stroke="#5a5a5a" stroke-width="1.2"/>
<line x1="80.28" y1="389.5" x2="80.28" y2="385.9" stroke="#5a5a5a" stroke-width="1.2"/>
<line x1="100.53" y1="389.5" x2="100.53" y2="387.5" stroke="#5a5a5a" stroke-width="1.2"/>
<line x1="120.79" y1="389.5" x2="120.79" y2="385.9" stroke="#5a5a5a" stroke-width="1.2"/>
<line x1="141.04" y1="389.5" x2="141.04" y2="387.5" stroke="#5a5a5a" stroke-width="1.2"/>
<line x1="161.30" y1="389.5" x2="161.30" y2="382.5" stroke="#5a5a5a" stroke-width="1.2"/>
<line x1="181.56" y1="389.5" x2="181.56" y2="387.5" stroke="#5a5a5a" stroke-width="1.2"/>
<line x1="201.81" y1="389.5" x2="201.81" y2="385.9" stroke="#5a5a5a" stroke-width="1.2"/>
<line x1="222.07" y1="389.5" x2="222.07" y2="387.5" stroke="#5a5a5a" stroke-width="1.2"/>
<line x1="242.33" y1="389.5" x2="242.33" y2="385.9" stroke="#5a5a5a" stroke-width="1.2"/>
<line x1="262.58" y1="389.5" x2="262.58" y2="387.5" stroke="#5a5a5a" stroke-width="1.2"/>
<line x1="282.84" y1="389.5" x2="282.84" y2="385.9" stroke="#5a5a5a" stroke-width="1.2"/>
<line x1="303.09" y1="389.5" x2="303.09" y2="387.5" stroke="#5a5a5a" stroke-width="1.2"/>
<line x1="323.35" y1="389.5" x2="323.35" y2="382.5" stroke="#5a5a5a" stroke-width="1.2"/>
<line x1="343.61" y1="389.5" x2="343.61" y2="387.5" stroke="#5a5a5a" stroke-width="1.2"/>
<line x1="363.86" y1="389.5" x2="363.86" y2="385.9" stroke="#5a5a5a" stroke-width="1.2"/>
<line x1="384.12" y1="389.5" x2="384.12" y2="387.5" stroke="#5a5a5a" stroke-width="1.2"/>
<line x1="404.38" y1="389.5" x2="404.38" y2="385.9" stroke="#5a5a5a" stroke-width="1.2"/>
<line x1="424.63" y1="389.5" x2="424.63" y2="387.5" stroke="#5a5a5a" stroke-width="1.2"/>
<line x1="444.89" y1="389.5" x2="444.89" y2="385.9" stroke="#5a5a5a" stroke-width="1.2"/>
<line x1="465.14" y1="389.5" x2="465.14" y2="387.5" stroke="#5a5a5a" stroke-width="1.2"/>
<line x1="485.40" y1="389.5" x2="485.40" y2="382.5" stroke="#5a5a5a" stroke-width="1.2"/>
<line x1="505.66" y1="389.5" x2="505.66" y2="387.5" stroke="#5a5a5a" stroke-width="1.2"/>
<line x1="525.91" y1="389.5" x2="525.91" y2="385.9" stroke="#5a5a5a" stroke-width="1.2"/>
<line x1="546.17" y1="389.5" x2="546.17" y2="387.5" stroke="#5a5a5a" stroke-width="1.2"/>
<line x1="566.42" y1="389.5" x2="566.42" y2="385.9" stroke="#5a5a5a" stroke-width="1.2"/>
<line x1="586.68" y1="389.5" x2="586.68" y2="387.5" stroke="#5a5a5a" stroke-width="1.2"/>
<line x1="606.94" y1="389.5" x2="606.94" y2="385.9" stroke="#5a5a5a" stroke-width="1.2"/>
<line x1="627.19" y1="389.5" x2="627.19" y2="387.5" stroke="#5a5a5a" stroke-width="1.2"/>
<line x1="647.45" y1="389.5" x2="647.45" y2="382.5" stroke="#5a5a5a" stroke-width="1.2"/>
<line x1="55.85" y1="389.50" x2="62.85" y2="389.50" stroke="#5a5a5a" stroke-width="1.2"/>
<line x1="55.85" y1="374.07" x2="59.65" y2="374.07" stroke="#5a5a5a" stroke-width="1.2"/>
<line x1="55.85" y1="358.64" x2="59.65" y2="358.64" stroke="#5a5a5a" stroke-width="1.2"/>
<line x1="55.85" y1="343.21" x2="59.65" y2="343.21" stroke="#5a5a5a" stroke-width="1.2"/>
<line x1="55.85" y1="327.78" x2="62.85" y2="327.78" stroke="#5a5a5a" stroke-width="1.2"/>
<line x1="55.85" y1="312.35" x2="59.65" y2="312.35" stroke="#5a5a5a" stroke-width="1.2"/>
<line x1="55.85" y1="296.92" x2="59.65" y2="296.92" stroke="#5a5a5a" stroke-width="1.2"/>
<line x1="55.85" y1="281.49" x2="59.65" y2="281.49" stroke="#5a5a5a" stroke-width="1.2"/>
<line x1="55.85" y1="266.06" x2="62.85" y2="266.06" stroke="#5a5a5a" stroke-width="1.2"/>
<line x1="55.85" y1="250.63" x2="59.65" y2="250.63" stroke="#5a5a5a" stroke-width="1.2"/>
<line x1="55.85" y1="235.20" x2="59.65" y2="235.20" stroke="#5a5a5a" stroke-width="1.2"/>
<line x1="55.85" y1="219.77" x2="59.65" y2="219.77" stroke="#5a5a5a" stroke-width="1.2"/>
<line x1="55.85" y1="204.34" x2="62.85" y2="204.34" stroke="#5a5a5a" stroke-width="1.2"/>
<line x1="55.85" y1="188.91" x2="59.65" y2="188.91" stroke="#5a5a5a" stroke-width="1.2"/>
<line x1="55.85" y1="173.48" x2="59.65" y2="173.48" stroke="#5a5a5a" stroke-width="1.2"/>
<line x1="55.85" y1="158.05" x2="59.65" y2="158.05" stroke="#5a5a5a" stroke-width="1.2"/>
<line x1="55.85" y1="142.62" x2="62.85" y2="142.62" stroke="#5a5a5a" stroke-width="1.2"/>
<line x1="55.85" y1="127.19" x2="59.65" y2="127.19" stroke="#5a5a5a" stroke-width="1.2"/>
<line x1="55.85" y1="111.76" x2="59.65" y2="111.76" stroke="#5a5a5a" stroke-width="1.2"/>
<line x1="55.85" y1="96.33" x2="59.65" y2="96.33" stroke="#5a5a5a" stroke-width="1.2"/>
<line x1="55.85" y1="80.90" x2="62.85" y2="80.90" stroke="#5a5a5a" stroke-width="1.2"/>
<line x1="55.85" y1="65.47" x2="59.65" y2="65.47" stroke="#5a5a5a" stroke-width="1.2"/>
<line x1="55.85" y1="50.04" x2="59.65" y2="50.04" stroke="#5a5a5a" stroke-width="1.2"/>
<line x1="55.85" y1="34.61" x2="59.65" y2="34.61" stroke="#5a5a5a" stroke-width="1.2"/>
<line x1="55.85" y1="19.18" x2="62.85" y2="19.18" stroke="#5a5a5a" stroke-width="1.2"/>
<path d="M90.75 37.5 L102.15 37.5 L96.45 26.3 Z" fill="none" stroke="#00ff00" stroke-width="2.5"/>
<ellipse cx="96.45" cy="49.95" rx="6.0" ry="5.75" fill="none" stroke="#0000ff" stroke-width="2.5"/>
<rect x="90.35000000000001" y="63.05" width="12.2" height="11.45" fill="none" stroke="#0000ff" stroke-width="2.5"/>
<path d="M94.15 81.35 H98.75 V84.7 H102.55 V89.3 H98.75 V92.65 H94.15 V89.3 H90.35000000000001 V84.7 H94.15 Z" fill="none" stroke="#0000ff" stroke-width="2.5"/>
<path d="M92.55 105.95 L96.45 100.65 L100.35000000000001 105.95 L96.45 111.25 Z" fill="none" stroke="#ff0000" stroke-width="2.2"/>
<polygon points="96.45,117.90 97.90,122.06 102.30,122.15 98.79,124.81 100.06,129.03 96.45,126.51 92.84,129.03 94.11,124.81 90.60,122.15 95.00,122.06" fill="#ff00ff"/>
<circle cx="96.45" cy="142.5" r="5.85" fill="#000"/>
</svg>
<div class="t yl" style="top:378.7px">0</div>
<div class="t yl" style="top:317.0px">1</div>
<div class="t yl" style="top:255.3px">2</div>
<div class="t yl" style="top:193.5px">3</div>
<div class="t yl" style="top:131.8px">4</div>
<div class="t yl" style="top:70.1px">5</div>
<div class="t yl" style="top:8.4px">6</div>
<div class="t xl" style="left:141.3px;top:395.5px">2</div>
<div class="t xl" style="left:303.4px;top:395.5px">3</div>
<div class="t xl" style="left:465.4px;top:395.5px">4</div>
<div class="t xl" style="left:627.5px;top:395.5px">5</div>
<div class="t" style="font-size:24px;left:295.2px;top:415.2px;transform:scaleX(1.005);transform-origin:left top">Ecm (GeV)</div>
<div class="t" style="font-size:23.2px;left:-31.4px;top:184.7px;width:100px;text-align:center;transform:rotate(-90deg) scaleY(0.93);transform-origin:center center;">R Value</div>
<div class="t lg" style="color:#00ff00;top:24px">CrystalBall</div>
<div class="t lg" style="color:#0000ff;top:43px">Gamma2</div>
<div class="t lg" style="color:#0000ff;top:62px">MarkI</div>
<div class="t lg" style="color:#0000ff;top:80px">Pluto</div>
<div class="t lg" style="color:#ff0000;top:98px">BES (2000)</div>
<div class="t lg" style="color:#ff00ff;top:117px">BES (2002)</div>
<div class="t lg" style="color:#000;top:136px">BES (2009)</div>
</body></html>
